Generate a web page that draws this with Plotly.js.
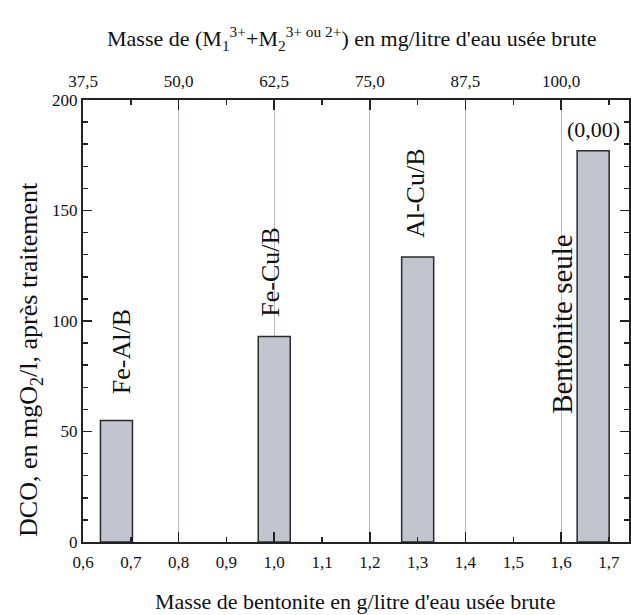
<!DOCTYPE html>
<html>
<head>
<meta charset="utf-8">
<script src="https://cdn.plot.ly/plotly-3.0.1.min.js"></script>
<style>html,body{margin:0;padding:0;background:#fff;}#chart{width:631px;height:615px;}</style>
</head>
<body>
<div id="chart"></div>
<script>
// Data
const bentonite = [0.67, 1.0, 1.3, 1.667];      // g/l bentonite
const dco = [55, 93, 129, 177];                 // mgO2/l after treatment
const barLabels = ["Fe-Al/B", "Fe-Cu/B", "Al-Cu/B", "Bentonite seule"];
const extraLabel = "(0,00)";

const FONT = "'Liberation Serif', 'Times New Roman', serif";
const INK = "#111111";
const xRange = [0.6, 1.742];
const toMetal = v => 37.5 + (v - 0.6) * 62.5;

const traces = [
  {
    type: "bar", x: bentonite, y: dco, width: 0.067,
    marker: {color: "#c2c5cd", line: {color: "#2a2a2a", width: 1.5}},
    hoverinfo: "x+y", showlegend: false
  },
  {type: "scatter", x: [], y: [], xaxis: "x2", yaxis: "y", showlegend: false, hoverinfo: "skip"},
  {type: "scatter", x: [], y: [], xaxis: "x3", yaxis: "y", showlegend: false, hoverinfo: "skip"}
];

// label placement offsets and sizes (layout only)
const labOff = [[0.012, 31], [-0.008, 29.5], [-0.003, 29], [-0.064, -78.5]];
const labSize = [26, 26, 26, 29];
const annotations = barLabels.map((t, i) => ({
  text: t, x: bentonite[i] + labOff[i][0], y: dco[i] + labOff[i][1],
  xref: "x", yref: "y", textangle: -90, showarrow: false,
  xanchor: "center", yanchor: "middle",
  font: {family: FONT, size: labSize[i], color: INK}
}));
annotations.push({
  text: extraLabel, x: bentonite[3], y: dco[3] + 9.5, xref: "x", yref: "y",
  showarrow: false, xanchor: "center", yanchor: "middle",
  font: {family: FONT, size: 22, color: INK}
});
annotations.push({
  text: "DCO, en mgO<sub>2</sub>/l, après traitement",
  xref: "paper", yref: "paper", x: -0.097, y: 0.412, textangle: -90,
  showarrow: false, xanchor: "center", yanchor: "middle",
  font: {family: FONT, size: 26, color: INK}
});
annotations.push({
  text: "Masse de bentonite en g/litre d'eau usée brute",
  xref: "paper", yref: "paper", x: 0.498, y: -0.1335,
  showarrow: false, xanchor: "center", yanchor: "middle",
  font: {family: FONT, size: 22, color: INK}
});
annotations.push({
  text: "Masse de (M<sub>1</sub><sup>3+</sup>+M<sub>2</sub><sup>3+ ou 2+</sup>) en mg/litre d'eau usée brute",
  xref: "paper", yref: "paper", x: 0.492, y: 1.14,
  showarrow: false, xanchor: "center", yanchor: "middle",
  font: {family: FONT, size: 22, color: INK}
});

const layout = {
  width: 631, height: 615,
  margin: {l: 83, r: 2, t: 100, b: 73},
  paper_bgcolor: "#fff", plot_bgcolor: "#fff",
  separators: ", ",
  font: {family: FONT, color: INK, size: 17},
  showlegend: false,
  xaxis: {
    range: xRange, tick0: 0.6, dtick: 0.1, tickformat: ".1f",
    ticks: "inside", ticklen: 5, tickwidth: 1.5, tickcolor: "#222",
    showline: true, linecolor: "#222", linewidth: 2,
    showgrid: false, zeroline: false, ticklabelstandoff: 4,
    tickfont: {family: FONT, size: 17, color: INK}
  },
  xaxis3: {
    overlaying: "x", anchor: "y", side: "bottom",
    range: xRange, tick0: 0.6, dtick: 0.2,
    ticks: "inside", ticklen: 10, tickwidth: 1.5, tickcolor: "#222",
    showticklabels: false, showline: false, showgrid: false, zeroline: false
  },
  xaxis2: {
    overlaying: "x", anchor: "y", side: "top",
    range: [toMetal(xRange[0]), toMetal(xRange[1])],
    tick0: 37.5, dtick: 12.5, tickformat: ".1f",
    ticks: "inside", ticklen: 10, tickwidth: 1.5, tickcolor: "#222",
    minor: {dtick: 6.25, ticklen: 5, tickwidth: 1.5, tickcolor: "#222", ticks: "inside", showgrid: false},
    showline: true, linecolor: "#222", linewidth: 2,
    showgrid: true, gridcolor: "#b5b9c1", gridwidth: 1, zeroline: false,
    ticklabelstandoff: 4,
    tickfont: {family: FONT, size: 17, color: INK}
  },
  yaxis: {
    range: [0, 200], dtick: 50,
    ticks: "inside", ticklen: 9, tickwidth: 1.5, tickcolor: "#222",
    minor: {dtick: 10, ticklen: 5, tickwidth: 1.5, tickcolor: "#222", ticks: "inside", showgrid: false},
    showline: true, linecolor: "#222", linewidth: 2, mirror: "ticks",
    showgrid: false, zeroline: false,
    tickfont: {family: FONT, size: 17, color: INK}
  },
  annotations: annotations
};

Plotly.newPlot("chart", traces, layout, {displayModeBar: false, staticPlot: true});
</script>
</body>
</html>
